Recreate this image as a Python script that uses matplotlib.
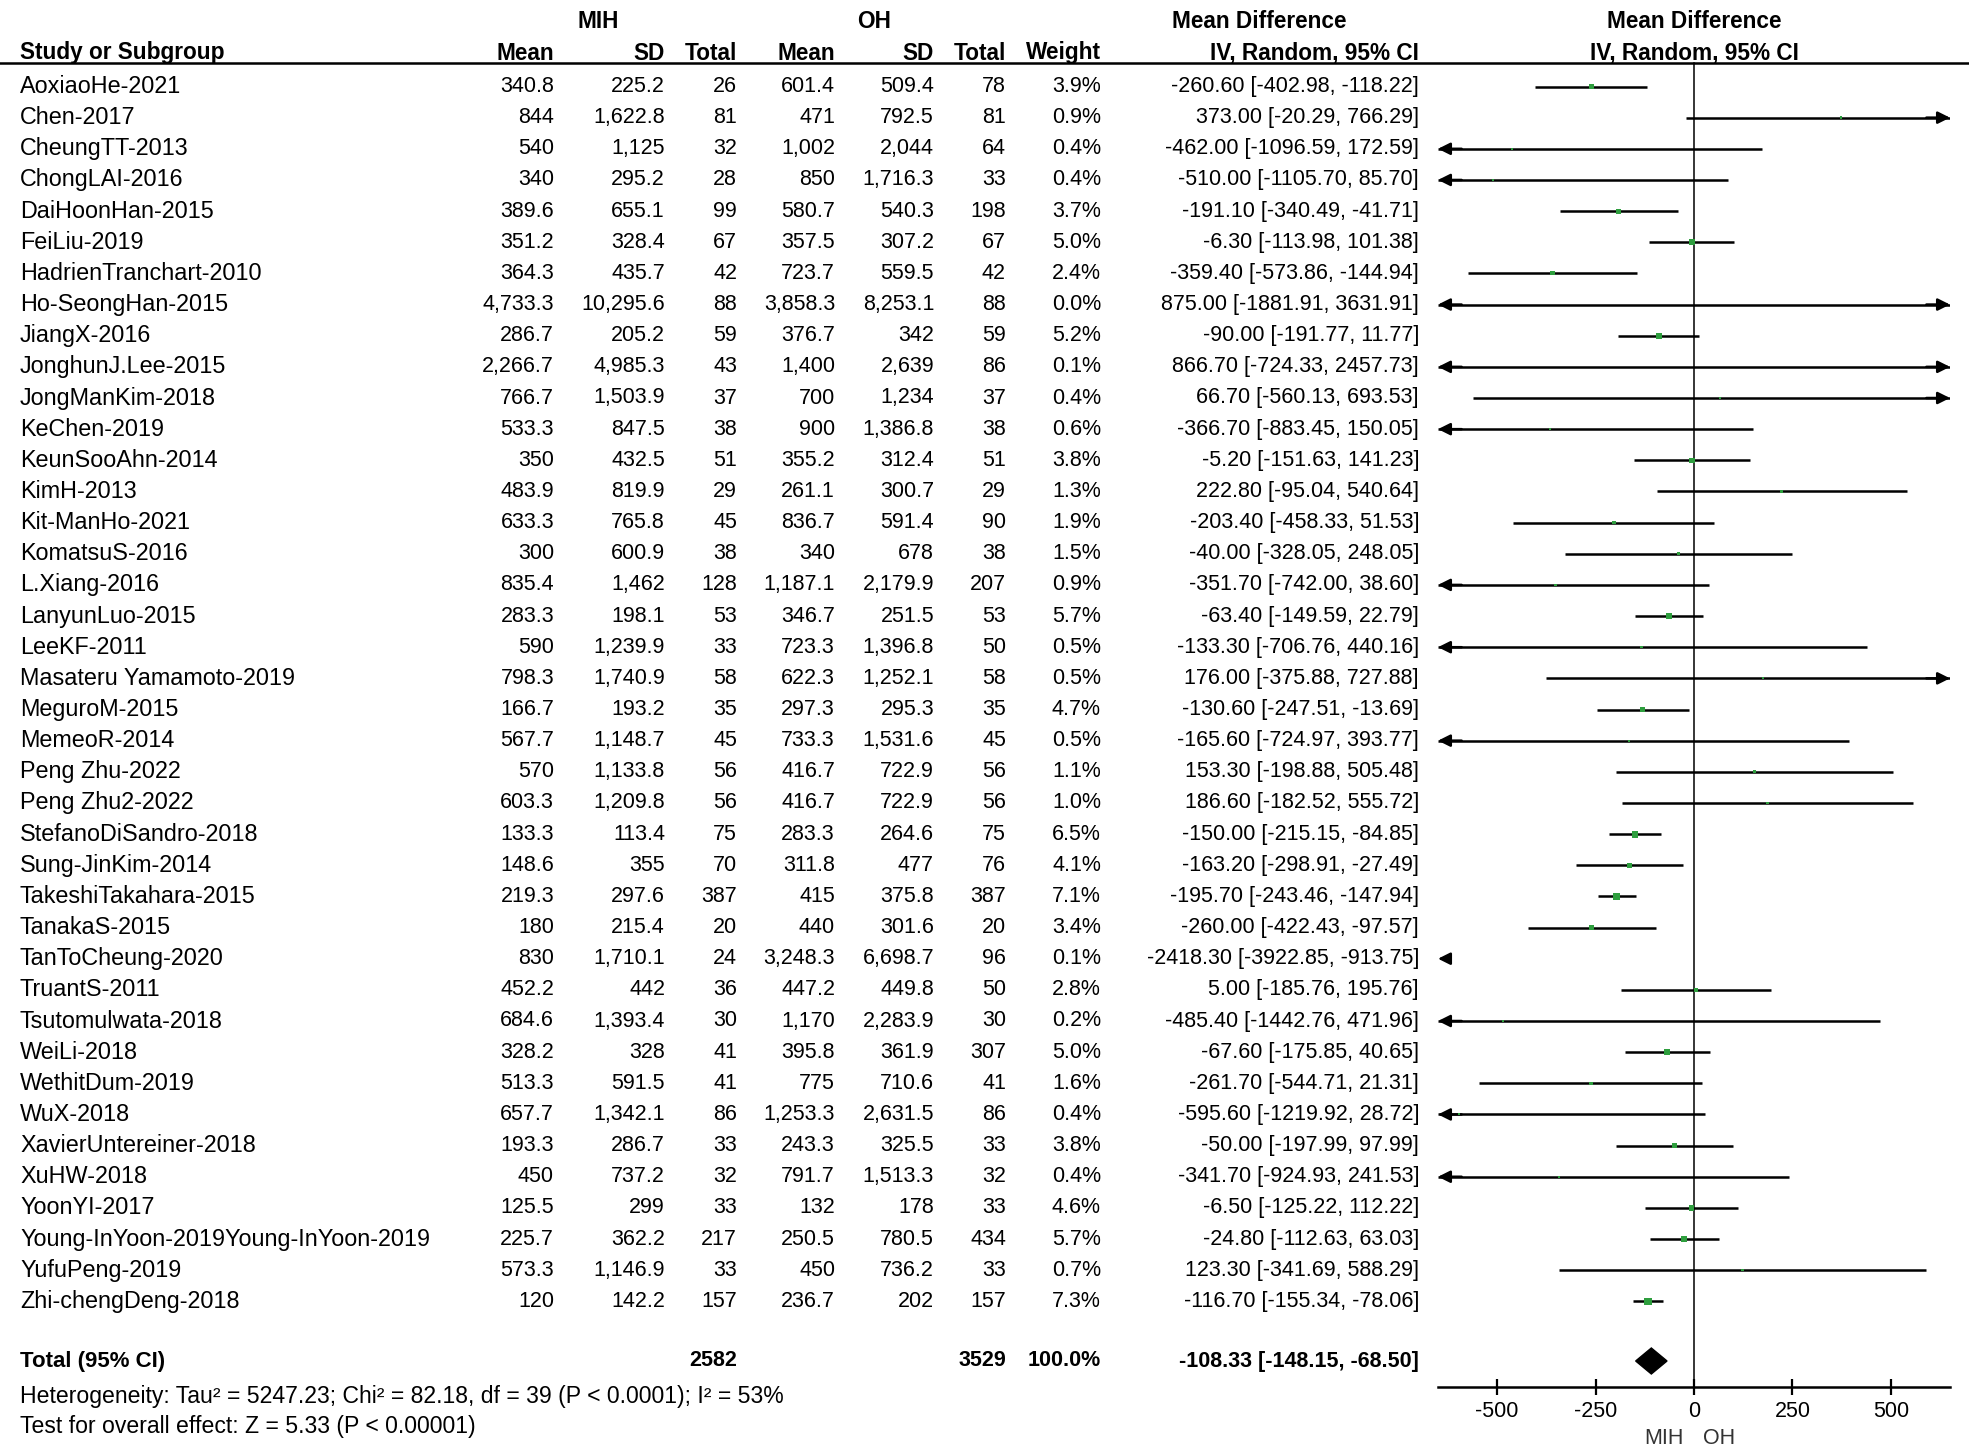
import matplotlib
matplotlib.use("Agg")
import numpy as np
import matplotlib.pyplot as plt

plt.rcParams['font.family'] = ['Liberation Sans', 'DejaVu Sans']

# ---- data ----
studies = ["AoxiaoHe-2021", "Chen-2017", "CheungTT-2013", "ChongLAI-2016", "DaiHoonHan-2015",
           "FeiLiu-2019", "HadrienTranchart-2010", "Ho-SeongHan-2015", "JiangX-2016",
           "JonghunJ.Lee-2015", "JongManKim-2018", "KeChen-2019", "KeunSooAhn-2014", "KimH-2013",
           "Kit-ManHo-2021", "KomatsuS-2016", "L.Xiang-2016", "LanyunLuo-2015", "LeeKF-2011",
           "Masateru Yamamoto-2019", "MeguroM-2015", "MemeoR-2014", "Peng Zhu-2022",
           "Peng Zhu2-2022", "StefanoDiSandro-2018", "Sung-JinKim-2014", "TakeshiTakahara-2015",
           "TanakaS-2015", "TanToCheung-2020", "TruantS-2011", "Tsutomulwata-2018", "WeiLi-2018",
           "WethitDum-2019", "WuX-2018", "XavierUntereiner-2018", "XuHW-2018", "YoonYI-2017",
           "Young-InYoon-2019Young-InYoon-2019", "YufuPeng-2019", "Zhi-chengDeng-2018"]
mih_mean = [340.8, 844, 540, 340, 389.6, 351.2, 364.3, 4733.3, 286.7, 2266.7, 766.7, 533.3, 350,
            483.9, 633.3, 300, 835.4, 283.3, 590, 798.3, 166.7, 567.7, 570, 603.3, 133.3, 148.6,
            219.3, 180, 830, 452.2, 684.6, 328.2, 513.3, 657.7, 193.3, 450, 125.5, 225.7, 573.3, 120]
mih_sd = [225.2, 1622.8, 1125, 295.2, 655.1, 328.4, 435.7, 10295.6, 205.2, 4985.3, 1503.9, 847.5,
          432.5, 819.9, 765.8, 600.9, 1462, 198.1, 1239.9, 1740.9, 193.2, 1148.7, 1133.8, 1209.8,
          113.4, 355, 297.6, 215.4, 1710.1, 442, 1393.4, 328, 591.5, 1342.1, 286.7, 737.2, 299,
          362.2, 1146.9, 142.2]
mih_n = [26, 81, 32, 28, 99, 67, 42, 88, 59, 43, 37, 38, 51, 29, 45, 38, 128, 53, 33, 58, 35, 45,
         56, 56, 75, 70, 387, 20, 24, 36, 30, 41, 41, 86, 33, 32, 33, 217, 33, 157]
oh_mean = [601.4, 471, 1002, 850, 580.7, 357.5, 723.7, 3858.3, 376.7, 1400, 700, 900, 355.2, 261.1,
           836.7, 340, 1187.1, 346.7, 723.3, 622.3, 297.3, 733.3, 416.7, 416.7, 283.3, 311.8, 415,
           440, 3248.3, 447.2, 1170, 395.8, 775, 1253.3, 243.3, 791.7, 132, 250.5, 450, 236.7]
oh_sd = [509.4, 792.5, 2044, 1716.3, 540.3, 307.2, 559.5, 8253.1, 342, 2639, 1234, 1386.8, 312.4,
         300.7, 591.4, 678, 2179.9, 251.5, 1396.8, 1252.1, 295.3, 1531.6, 722.9, 722.9, 264.6, 477,
         375.8, 301.6, 6698.7, 449.8, 2283.9, 361.9, 710.6, 2631.5, 325.5, 1513.3, 178, 780.5,
         736.2, 202]
oh_n = [78, 81, 64, 33, 198, 67, 42, 88, 59, 86, 37, 38, 51, 29, 90, 38, 207, 53, 50, 58, 35, 45,
        56, 56, 75, 76, 387, 20, 96, 50, 30, 307, 41, 86, 33, 32, 33, 434, 33, 157]
weight = [3.9, 0.9, 0.4, 0.4, 3.7, 5.0, 2.4, 0.0, 5.2, 0.1, 0.4, 0.6, 3.8, 1.3, 1.9, 1.5, 0.9, 5.7,
          0.5, 0.5, 4.7, 0.5, 1.1, 1.0, 6.5, 4.1, 7.1, 3.4, 0.1, 2.8, 0.2, 5.0, 1.6, 0.4, 3.8, 0.4,
          4.6, 5.7, 0.7, 7.3]
md = [-260.60, 373.00, -462.00, -510.00, -191.10, -6.30, -359.40, 875.00, -90.00, 866.70, 66.70,
      -366.70, -5.20, 222.80, -203.40, -40.00, -351.70, -63.40, -133.30, 176.00, -130.60, -165.60,
      153.30, 186.60, -150.00, -163.20, -195.70, -260.00, -2418.30, 5.00, -485.40, -67.60,
      -261.70, -595.60, -50.00, -341.70, -6.50, -24.80, 123.30, -116.70]
ci_lo = [-402.98, -20.29, -1096.59, -1105.70, -340.49, -113.98, -573.86, -1881.91, -191.77,
         -724.33, -560.13, -883.45, -151.63, -95.04, -458.33, -328.05, -742.00, -149.59, -706.76,
         -375.88, -247.51, -724.97, -198.88, -182.52, -215.15, -298.91, -243.46, -422.43,
         -3922.85, -185.76, -1442.76, -175.85, -544.71, -1219.92, -197.99, -924.93, -125.22,
         -112.63, -341.69, -155.34]
ci_hi = [-118.22, 766.29, 172.59, 85.70, -41.71, 101.38, -144.94, 3631.91, 11.77, 2457.73, 693.53,
         150.05, 141.23, 540.64, 51.53, 248.05, 38.60, 22.79, 440.16, 727.88, -13.69, 393.77,
         505.48, 555.72, -84.85, -27.49, -147.94, -97.57, -913.75, 195.76, 471.96, 40.65, 21.31,
         28.72, 97.99, 241.53, 112.22, 63.03, 588.29, -78.06]

total_mih = 2582
total_oh = 3529
pooled_md, pooled_lo, pooled_hi = -108.33, -148.15, -68.50
het_text = "Heterogeneity: Tau\u00b2 = 5247.23; Chi\u00b2 = 82.18, df = 39 (P < 0.0001); I\u00b2 = 53%"
effect_text = "Test for overall effect: Z = 5.33 (P < 0.00001)"
ticks = [-500, -250, 0, 250, 500]
xmax = 650


def fmt(v):
    if float(v).is_integer():
        return f"{int(v):,}"
    return f"{v:,.1f}"


# ---- layout (pixels) ----
W, H = 1969, 1448
fs = 15.5          # numbers
fs_name = 16.8     # study names / footnotes
fs_head = 16.3     # bold headers
green = "#2e9e3e"
row0, dy = 86.5, 31.15
y_total = 1361
y_axis = 1387
plot_x0, plot_x1 = 1438, 1950

fig = plt.figure(figsize=(W / 100, H / 100), dpi=100)
tax = fig.add_axes([0, 0, 1, 1])
tax.set_xlim(0, W)
tax.set_ylim(H, 0)
tax.axis("off")

# header
tax.text(598, 22, "MIH", ha="center", va="center", fontsize=fs_head, fontweight="bold")
tax.text(874, 22, "OH", ha="center", va="center", fontsize=fs_head, fontweight="bold")
tax.text(1259, 22, "Mean Difference", ha="center", va="center", fontsize=fs_head, fontweight="bold")
tax.text(1694, 22, "Mean Difference", ha="center", va="center", fontsize=fs_head, fontweight="bold")
cols = [(554, "Mean"), (665, "SD"), (737, "Total"), (835, "Mean"), (934, "SD"), (1006, "Total"),
        (1101, "Weight"), (1419, "IV, Random, 95% CI")]
tax.text(20, 53, "Study or Subgroup", ha="left", va="center", fontsize=fs_head, fontweight="bold")
for x, s in cols:
    tax.text(x, 53, s, ha="right", va="center", fontsize=fs_head, fontweight="bold")
tax.text(1694, 53, "IV, Random, 95% CI", ha="center", va="center", fontsize=fs_head, fontweight="bold")
tax.plot([0, W], [63, 63], color="black", lw=1.8)

# study rows
for i, name in enumerate(studies):
    y = row0 + i * dy
    tax.text(20, y, name, ha="left", va="center", fontsize=fs_name)
    vals = [fmt(mih_mean[i]), fmt(mih_sd[i]), str(mih_n[i]), fmt(oh_mean[i]), fmt(oh_sd[i]),
            str(oh_n[i]), f"{weight[i]:.1f}%",
            f"{md[i]:.2f} [{ci_lo[i]:.2f}, {ci_hi[i]:.2f}]"]
    for (x, _), s in zip(cols, vals):
        tax.text(x, y, s, ha="right", va="center", fontsize=fs)

# total row
tax.text(20, y_total, "Total (95% CI)", ha="left", va="center", fontsize=16, fontweight="bold")
tot_vals = [(737, str(total_mih)), (1006, str(total_oh)), (1101, "100.0%"),
            (1419, f"{pooled_md:.2f} [{pooled_lo:.2f}, {pooled_hi:.2f}]")]
for x, s in tot_vals:
    tax.text(x, y_total, s, ha="right", va="center", fontsize=fs, fontweight="bold")
tax.text(20, 1396, het_text, ha="left", va="center", fontsize=16.6)
tax.text(20, 1427, effect_text, ha="left", va="center", fontsize=16.6)

# ---- forest panel ----
fax = fig.add_axes([plot_x0 / W, 0, (plot_x1 - plot_x0) / W, 1])
fax.set_xlim(-xmax, xmax)
fax.set_ylim(H, 0)
fax.patch.set_alpha(0)
for s in ["top", "left", "right"]:
    fax.spines[s].set_visible(False)
fax.spines["bottom"].set_position(("data", y_axis))
fax.spines["bottom"].set_linewidth(1.8)
fax.set_yticks([])
fax.set_xticks(ticks)
fax.set_xticklabels([str(t) for t in ticks])
fax.tick_params(axis="x", direction="inout", length=12, width=1.6, labelsize=fs, pad=4)

fax.plot([0, 0], [63, y_axis], color="black", lw=1.1)

arrow_kw = dict(arrowstyle="-|>", mutation_scale=18, lw=1.8, color="black", shrinkA=0, shrinkB=0)
for i in range(len(studies)):
    y = row0 + i * dy
    lo, hi = ci_lo[i], ci_hi[i]
    lo_c, hi_c = max(lo, -xmax), min(hi, xmax)
    if lo_c < hi_c:
        fax.plot([lo_c, hi_c], [y, y], color="black", lw=1.8, solid_capstyle="butt")
    if lo < -xmax:
        start = -xmax + 25 if hi < -xmax else -xmax + 60
        fax.annotate("", xy=(-xmax, y), xytext=(start, y), arrowprops=arrow_kw)
    if hi > xmax:
        fax.annotate("", xy=(xmax, y), xytext=(xmax - 60, y), arrowprops=arrow_kw)

ys = [row0 + i * dy for i in range(len(studies))]
sizes = [max(5.2 * np.sqrt(w / 7.3), 1.5) ** 2 for w in weight]
fax.scatter(md, ys, s=sizes, marker="s", color=green, linewidths=0, zorder=3)

# pooled diamond
fax.fill([pooled_lo, pooled_md, pooled_hi, pooled_md],
         [y_total, y_total - 13, y_total, y_total + 13], color="black", zorder=3)

tax.text(1684, 1438, "MIH", ha="right", va="center", fontsize=fs, color="#333333")
tax.text(1703, 1438, "OH", ha="left", va="center", fontsize=fs, color="#333333")

fig.savefig("out.png", dpi=100)
